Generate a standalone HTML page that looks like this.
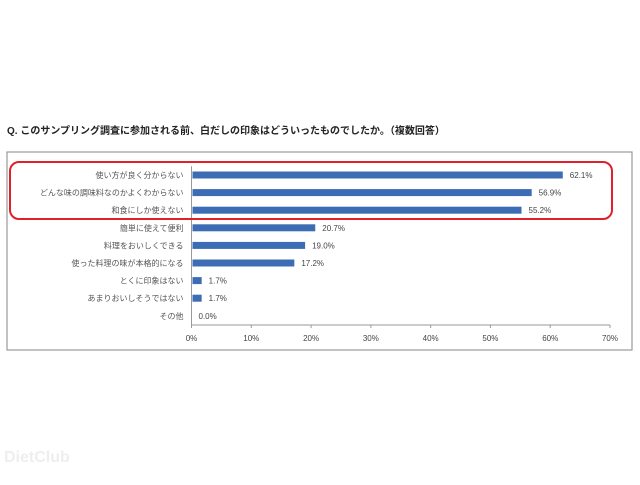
<!DOCTYPE html>
<html><head><meta charset="utf-8"><style>
body{margin:0;width:640px;height:480px;background:#fff;overflow:hidden;font-family:"Liberation Sans","Noto Sans CJK JP",sans-serif}
</style></head><body>
<svg width="640" height="480" xmlns="http://www.w3.org/2000/svg">
<text x="7" y="134" font-size="10" font-weight="bold" fill="#222">Q. このサンプリング調査に参加される前、白だしの印象はどういったものでしたか。（複数回答）</text>
<rect x="7" y="152" width="625" height="198" fill="#fff" stroke="#999" stroke-width="1.2"/>
<g id="plot"></g>
<rect x="10" y="162" width="602" height="57" rx="9" fill="none" stroke="#e0202a" stroke-width="2"/>
<text x="4" y="462" font-size="16" fill="#eee" font-weight="bold">DietClub</text>
</svg>
<script>
const categories=["使い方が良く分からない","どんな味の調味料なのかよくわからない","和食にしか使えない","簡単に使えて便利","料理をおいしくできる","使った料理の味が本格的になる","とくに印象はない","あまりおいしそうではない","その他"];
const values=[62.1,56.9,55.2,20.7,19.0,17.2,1.7,1.7,0.0];
const ticks=[0,10,20,30,40,50,60,70];
const NS="http://www.w3.org/2000/svg";
const g=document.getElementById('plot');
const x0=191.5,x1=610,xmax=70,yTop=166.2,row=17.6;
const xs=v=>x0+(x1-x0)*v/xmax;
const ys=i=>yTop+row*(i+0.5);
function el(t,a){const e=document.createElementNS(NS,t);for(const k in a)e.setAttribute(k,a[k]);g.appendChild(e);return e;}
const ax=el('line',{x1:x0,y1:yTop,x2:x0,y2:325,stroke:'#999'});


const bx=el('line',{x1:x0,y1:325,x2:x1,y2:325,stroke:'#999'});


ticks.forEach(t=>{
  const m=el('line',{x1:xs(t),y1:325,x2:xs(t),y2:328,stroke:'#999'});
  
  
  const l=el('text',{x:xs(t),y:341,'font-size':8,'text-anchor':'middle',fill:'#444'});
  l.textContent=t+'%';
  
  
});
categories.forEach((c,i)=>{
  const y=ys(i);
  const l=el('text',{x:x0-8,y:y+3,'font-size':8,'text-anchor':'end',fill:'#555'});
  l.textContent=c;
  
  
  const b=el('rect',{x:x0+1,y:y-3.5,width:Math.max(0,xs(values[i])-x0-1),height:7,fill:'#3c6db4'});
  
  
  const v=el('text',{x:xs(values[i])+7,y:y+3,'font-size':8,fill:'#444'});
  v.textContent=values[i].toFixed(1)+'%';
  
  
});
</script>
</body></html>
